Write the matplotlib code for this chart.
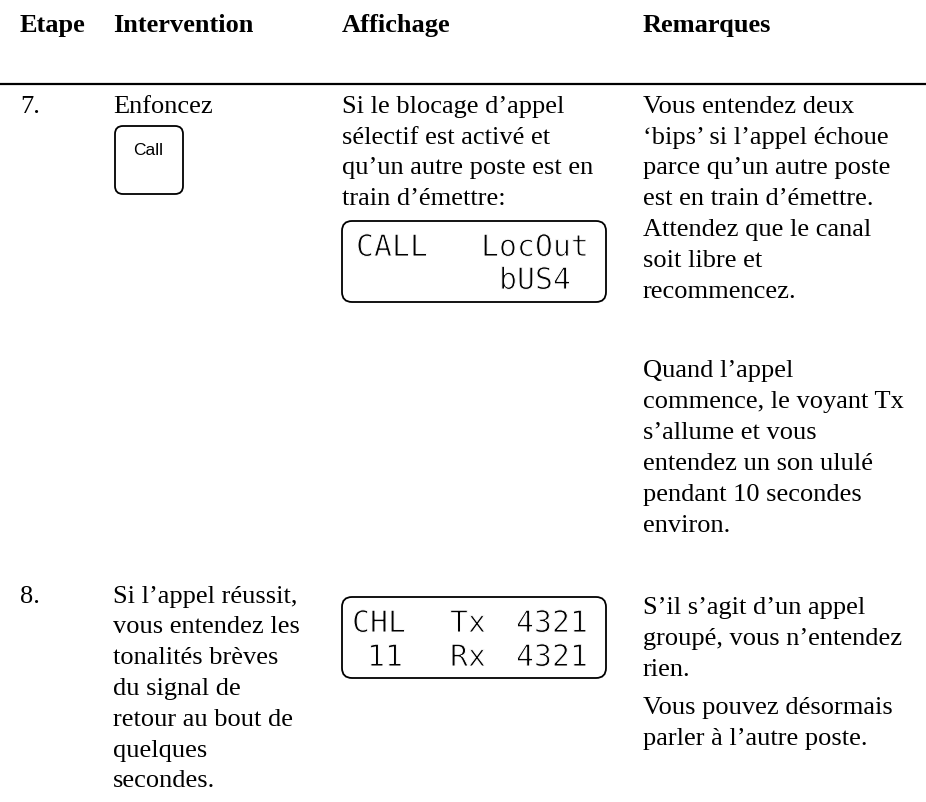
import matplotlib
matplotlib.use('Agg')
import matplotlib.pyplot as plt
import matplotlib.patheffects as pe
from matplotlib.patches import FancyBboxPatch

# column headers and text content
headers = ['Etape', 'Intervention', 'Affichage', 'Remarques']
steps = ['7.', '8.']

row7_action = ['Enfoncez']
row7_display = ["Si le blocage d\u2019appel", "s\u00e9lectif est activ\u00e9 et",
                "qu\u2019un autre poste est en", "train d\u2019\u00e9mettre:"]
row7_notes_a = ['Vous entendez deux', "\u2018bips\u2019 si l\u2019appel \u00e9choue",
                "parce qu\u2019un autre poste", "est en train d\u2019\u00e9mettre.",
                'Attendez que le canal', 'soit libre et', 'recommencez.']
row7_notes_b = ["Quand l\u2019appel", 'commence, le voyant Tx', "s\u2019allume et vous",
                'entendez un son ulul\u00e9', 'pendant 10 secondes', 'environ.']
row8_action = ["Si l\u2019appel r\u00e9ussit,", 'vous entendez les', 'tonalit\u00e9s br\u00e8ves',
               'du signal de', 'retour au bout de', 'quelques', 'secondes.']
row8_notes = ["S\u2019il s\u2019agit d\u2019un appel", "group\u00e9, vous n\u2019entendez", 'rien.',
              'Vous pouvez d\u00e9sormais', "parler \u00e0 l\u2019autre poste."]

lcd7 = [('CALL', 356, 257), ('LocOut', 481, 257), ('bUS4', 499, 290)]
lcd8 = [('CHL', 352, 633), ('Tx', 450, 633), ('4321', 516, 633),
        ('11', 367, 667), ('Rx', 450, 667), ('4321', 516, 667)]

W, H = 926, 803
fig = plt.figure(figsize=(W / 100, H / 100), dpi=100)
ax = fig.add_axes([0, 0, 1, 1])
ax.set_xlim(0, W)
ax.set_ylim(H, 0)
ax.axis('off')

serif = 'Liberation Serif'
fs = 19
col_x = [20, 113, 342, 643]
thin = [pe.Stroke(linewidth=0.7, foreground='white')]


def lines(x, ys, texts, **kw):
    for y, t in zip(ys, texts):
        ax.text(x, y, t, family=serif, fontsize=fs, va='baseline', ha='left', **kw)


def box(x0, y0, x1, y1, r):
    ax.add_patch(FancyBboxPatch((x0, y0), x1 - x0, y1 - y0,
                                boxstyle='round,pad=0,rounding_size=%d' % r,
                                fc='none', ec='black', lw=1.3))


def lcd(items):
    for t, x, y in items:
        ax.text(x, y, t, family='DejaVu Sans Mono', fontsize=21.5,
                va='baseline', path_effects=thin)


# header
for x, h in zip(col_x, headers):
    ax.text(x, 32, h, family=serif, fontsize=fs, fontweight='bold', va='baseline')
ax.plot([0, W], [85, 85], color='black', lw=1.6, solid_capstyle='butt')

# row 7
lines(col_x[0], [113], [steps[0]])
lines(col_x[1], [113], row7_action)
lines(col_x[2], [113, 144, 174, 205], row7_display)
lines(col_x[3], [113, 144, 174, 205, 236, 267, 298], row7_notes_a)
lines(col_x[3], [377, 408, 439, 470, 501, 532], row7_notes_b)

box(115, 127, 183, 195, 8)
ax.text(148, 155, 'Call', family='Liberation Sans', fontsize=12.5, ha='center', va='baseline')

box(342, 222, 606, 303, 10)
lcd(lcd7)

# row 8
lines(col_x[0], [603], [steps[1]])
lines(col_x[1], [603, 633, 664, 695, 726, 757, 787], row8_action)
lines(col_x[3], [614, 645, 676, 714, 745], row8_notes)

box(342, 598, 606, 679, 10)
lcd(lcd8)

fig.savefig('out.png', dpi=100, facecolor='white')
